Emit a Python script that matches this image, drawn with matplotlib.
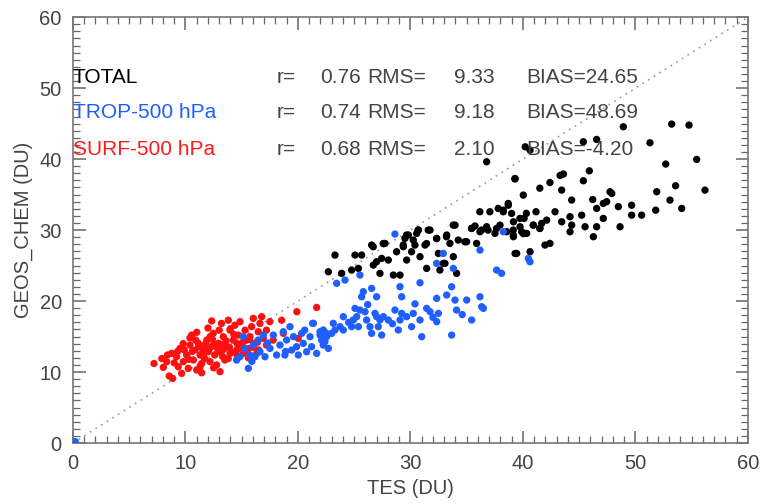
import numpy as np
import matplotlib.pyplot as plt
from matplotlib.ticker import MultipleLocator

# TOTAL (black)
tot_x = [22.7, 23.29, 23.88, 24.77, 25.07, 25.37, 25.66, 26.55, 26.7, 26.99, 27.29, 27.44, 27.74, 28.03,
         28.48, 28.77, 29.07, 29.37, 29.51, 29.66, 30.1, 30.25, 30.4, 30.55, 30.7, 30.85, 31.29, 31.44,
         31.74, 32.33, 32.48, 32.62, 32.92, 33.22, 33.51, 33.81, 34.1, 34.25, 34.99, 35.44, 35.88, 36.18,
         36.77, 37.51, 37.96, 38.55, 39.14, 39.44, 39.74, 40.33, 40.92, 41.51, 41.96, 33.96, 35.74, 33.07,
         29.81,
         36.77, 39.29, 40.03, 38.69, 40.2, 36.17, 37.06, 37.8, 38.25, 38.99, 39.73, 40.3, 35.43, 36.32,
         36.9, 37.65, 39.14, 40.03, 31.58, 30.69, 33.8, 29.65, 27.58, 26.69, 29.36, 32.32, 33.2, 34.84,
         31.43,
         48.92, 53.22, 54.76, 51.29, 46.55, 45.37, 40.63, 55.44, 52.69, 45.9, 45.37, 43.6, 43.3, 42.4,
         39.29, 41.5, 43.44, 44.33, 46.2, 47.89, 47.44, 48.48, 49.66, 51.89, 53.57, 56.18, 53.07, 54.11,
         51.8, 50.55, 49.66, 48.63, 47.14, 46.55, 46.55, 45.52, 45.22, 44.18, 44.33, 44.18, 43.44, 42.85,
         42.11, 41.5, 41.66, 40.92, 41.16, 40.1, 39.89, 39.15, 39.15, 38.7, 38.26, 42.4, 40.63, 39.3,
         46.26, 47.74, 47.14]
tot_y = [24.13, 26.48, 23.9, 24.37, 26.48, 24.6, 26.48, 27.89, 25.07, 25.54, 23.9, 26.01, 28.12, 25.78,
         23.66, 26.95, 23.66, 27.65, 28.83, 25.78, 26.95, 28.59, 27.89, 29.53, 30.0, 26.25, 27.89, 24.6,
         30.0, 28.83, 26.71, 24.37, 25.31, 29.3, 28.12, 26.25, 23.9, 28.59, 28.36, 30.24, 28.12, 29.77,
         30.47, 29.53, 30.7, 29.77, 29.3, 26.71, 30.47, 29.53, 30.7, 30.24, 27.89, 30.7, 30.57, 25.31,
         29.3,
         39.62, 37.27, 34.93, 33.75, 41.73, 32.58, 32.58, 33.05, 32.58, 32.35, 31.64, 32.35, 30.23, 30.0,
         30.0, 30.23, 30.0, 29.5, 30.0, 30.0, 30.7, 29.3, 28.1, 27.65, 27.9, 28.8, 29.06, 28.35,
         28.1,
         44.55, 44.93, 44.79, 42.3, 42.77, 42.44, 41.27, 39.95, 39.3, 38.35, 36.95, 37.9, 37.7, 36.7,
         37.2, 35.9, 35.63, 34.23, 34.3, 35.16, 34.0, 33.3, 33.5, 35.4, 36.24, 35.63, 34.22, 33.05,
         32.8, 32.1, 32.1, 30.47, 31.64, 33.05, 30.47, 30.47, 32.1, 31.88, 30.7, 29.76, 31.17, 32.58,
         31.4, 30.23, 30.94, 30.7, 32.58, 31.64, 29.76, 29.06, 31.17, 33.5, 32.8, 28.12, 26.95, 26.7,
         29.06, 35.4, 33.75]

# TROP-500 hPa (blue)
trop_x = [0.2,
          28.62, 23.44, 24.18, 25.51, 25.81, 25.66, 26.55, 26.99, 29.07, 29.22, 30.85, 32.92, 32.33,
          33.81, 36.18, 37.66, 38.1, 38.25, 40.48, 40.62, 32.33, 33.22, 33.66, 33.96, 35.0, 35.44, 36.18,
          36.33, 36.48, 33.66, 34.1, 32.48, 32.33, 31.74, 31.44, 30.85, 31.0, 30.25, 30.1, 29.66, 29.22,
          29.07, 28.92, 28.62, 28.03, 27.59, 27.29, 27.14, 26.99, 26.85, 26.55, 26.4, 26.1, 25.96, 25.51,
          25.22, 25.07, 24.92, 24.77, 24.03, 23.74, 23.14, 23.0, 22.55, 22.25, 21.96, 21.37, 27.44, 25.37,
          24.03, 23.29,
          14.55, 14.84, 15.14, 15.29, 15.59, 15.73, 16.03, 16.18, 16.47, 16.62, 16.92, 17.07, 17.51, 17.81,
          18.1, 18.4, 18.7, 18.84, 18.99, 19.29, 19.44, 19.6, 19.88, 20.03, 20.33, 20.47, 20.77, 21.07,
          21.21, 21.3, 21.66, 21.96, 22.1, 22.25, 22.55, 22.7,
          15.9, 17.3, 18.9, 20.6, 22.4, 24.5, 26.2, 28.4, 30.4, 32.0, 34.6]
trop_y = [0.2,
          29.44, 22.49, 22.96, 23.66, 21.32, 20.61, 21.79, 20.61, 22.02, 20.61, 22.58, 26.71, 25.31,
          24.6, 27.18, 24.37, 23.9, 29.77, 26.01, 25.54, 20.38, 20.85, 22.02, 20.14, 20.14, 17.33, 20.61,
          19.2, 18.97, 15.21, 18.73, 18.26, 17.09, 18.5, 18.97, 17.33, 14.98, 18.26, 16.39, 17.8, 18.26,
          17.33, 15.92, 18.73, 17.33, 17.8, 17.33, 16.39, 17.8, 18.26, 15.45, 16.39, 17.33, 18.5, 18.73,
          17.8, 18.97, 17.33, 16.39, 17.8, 16.39, 16.86, 15.45, 14.98, 15.92, 15.21, 16.86, 15.21, 16.39,
          15.92, 15.92,
          11.69, 12.16, 14.98, 13.33, 10.52, 12.4, 13.8, 12.16, 14.51, 12.86, 15.21, 12.16, 13.33, 15.21,
          12.4, 13.8, 15.68, 12.4, 14.51, 16.39, 13.1, 14.98, 13.57, 12.4, 15.45, 14.04, 12.86, 14.98,
          13.57, 16.86, 12.63, 15.68, 14.51, 13.8, 15.45, 13.33,
          11.5, 14.1, 12.9, 15.9, 14.3, 17.0, 19.5, 16.8, 19.6, 17.7, 18.1]

# SURF-500 hPa (red)
surf_x = [7.2, 7.9, 8.03, 8.33, 8.56, 8.86, 8.77, 9.21, 9.36, 9.51, 9.66, 9.81, 10.1, 10.25, 10.4, 10.55,
          10.7, 10.85, 11.0, 11.14, 11.3, 11.44, 11.44, 11.6, 11.7, 11.9, 12.03, 12.18, 12.33, 12.33,
          12.47, 12.6, 12.77, 12.92, 13.07, 13.07, 13.2, 13.36, 13.5, 13.66, 13.81, 13.96, 13.96, 14.25,
          14.4, 14.55, 14.7, 14.85, 14.99, 15.14, 15.3, 15.44, 15.6, 15.73, 15.88, 16.03, 16.18, 16.33,
          16.47, 16.62, 16.77, 16.92, 17.2, 17.5, 17.8, 18.55, 18.7, 19.9, 20.03, 21.66,
          10.6, 10.9, 11.2, 11.5, 11.8, 12.1, 12.4, 12.6, 12.9, 13.1, 13.4, 13.6, 13.9, 14.1, 14.3, 14.6,
          14.8, 15.1, 15.4, 15.7, 16.0, 16.4, 11.0, 12.0, 13.0, 9.3, 9.8, 10.3, 11.3, 12.5, 13.8, 14.6,
          17.2,
          8.4, 9.0, 9.9, 10.4, 11.6, 12.2, 12.8, 13.3, 14.0, 14.9, 15.6, 16.5]
surf_y = [11.2, 11.9, 10.66, 11.46, 9.44, 9.1, 12.63, 12.16, 10.75, 13.33, 9.81, 11.46, 12.4, 10.52,
          13.8, 15.2, 11.7, 13.1, 10.3, 14.04, 12.4, 11.2, 9.9, 13.3, 11.9, 14.5, 12.86, 11.46, 17.2,
          13.6, 15.45, 12.4, 11.0, 14.04, 10.05, 12.86, 16.85, 14.98, 11.7, 13.57, 17.3, 15.9, 12.63,
          14.5, 16.6, 13.1, 15.2, 17.1, 13.8, 12.63, 15.9, 14.5, 13.3, 15.0, 16.4, 17.56, 14.04, 12.63,
          15.68, 16.85, 17.8, 14.74, 15.9, 17.1, 14.5, 17.3, 15.45, 18.5, 14.74, 19.1,
          12.9, 14.5, 13.6, 12.7, 14.0, 13.2, 14.6, 13.8, 12.9, 13.9, 13.2, 14.4, 13.5, 12.8, 15.3, 14.0,
          13.4, 14.2, 13.0, 14.6, 13.5, 14.2, 15.6, 16.2, 15.9, 12.9, 14.0, 11.8, 10.8, 10.6, 11.9, 12.3,
          13.8,
          12.4, 11.3, 13.1, 14.8, 12.2, 15.0, 13.5, 12.2, 16.1, 13.9, 12.0, 13.1]

labels = ['TOTAL', 'TROP-500 hPa', 'SURF-500 hPa']
label_colors = ['black', '#1f5fff', '#ff1a1a']
r_vals = ['0.76', '0.74', '0.68']
rms_vals = ['9.33', '9.18', '2.10']
bias_vals = ['24.65', '48.69', '-4.20']

plt.rcParams['font.family'] = ['Liberation Sans', 'DejaVu Sans']
gray = '#444444'

fig = plt.figure(figsize=(7.64, 5.04), dpi=100)
ax = fig.add_axes([0.0955, 0.121, 0.8835, 0.845])

ax.plot([0, 60], [0, 60], linestyle=(0, (1, 3)), color='#999999', lw=1.2, zorder=1)
ax.scatter(tot_x, tot_y, s=28, color='black', edgecolors='none', zorder=2)
ax.scatter(surf_x, surf_y, s=28, color='#ff1010', edgecolors='none', zorder=3)
ax.scatter(trop_x, trop_y, s=28, color='#1f5fff', edgecolors='none', zorder=4)

ax.set_xlim(0, 60)
ax.set_ylim(0, 60)
ax.xaxis.set_major_locator(MultipleLocator(10))
ax.yaxis.set_major_locator(MultipleLocator(10))
ax.xaxis.set_minor_locator(MultipleLocator(1))
ax.yaxis.set_minor_locator(MultipleLocator(1))
ax.tick_params(axis='both', which='major', direction='in', top=True, right=True,
               length=9, width=1.1, color='#666666', labelsize=14.5, labelcolor=gray, pad=8)
ax.tick_params(axis='both', which='minor', direction='in', top=True, right=True,
               length=5, width=0.9, color='#666666')
for sp in ax.spines.values():
    sp.set_color('#777777')
    sp.set_linewidth(1.2)

ax.set_xlabel('TES (DU)', fontsize=14.5, color=gray, labelpad=4)
ax.set_ylabel('GEOS_CHEM (DU)', fontsize=14.5, color=gray, labelpad=5)

ypos = [51.5, 46.5, 41.3]
for i in range(3):
    ax.text(0.0, ypos[i], labels[i], color=label_colors[i], fontsize=15, va='center')
    ax.text(18.1, ypos[i], 'r=', color=gray, fontsize=15, va='center')
    ax.text(22.0, ypos[i], r_vals[i], color=gray, fontsize=15, va='center')
    ax.text(26.2, ypos[i], 'RMS=', color=gray, fontsize=15, va='center')
    ax.text(33.9, ypos[i], rms_vals[i], color=gray, fontsize=15, va='center')
    ax.text(40.3, ypos[i], 'BIAS=' + bias_vals[i], color=gray, fontsize=15, va='center')

fig.savefig('out.png', dpi=100)
